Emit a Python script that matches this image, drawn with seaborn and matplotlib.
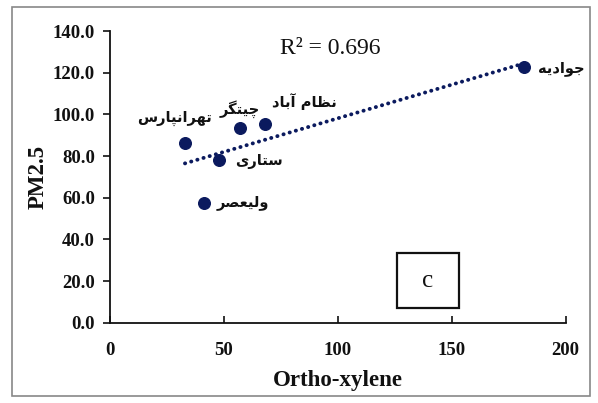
import matplotlib
matplotlib.use("Agg")
import matplotlib.pyplot as plt
import seaborn as sns
import pandas as pd
from matplotlib.patches import Rectangle

# ---- data ----
stations = ["جوادیه", "تهرانپارس", "چیتگر", "نظام آباد", "ستاری", "ولیعصر"]
ortho_xylene = [181.6, 32.9, 57.0, 68.0, 47.8, 41.2]
pm25 = [122.7, 86.3, 93.5, 95.4, 78.1, 57.5]
label_x = [198.0, 28.5, 57.0, 85.5, 65.4, 58.3]
label_y = [122.2, 98.3, 102.5, 106.0, 77.2, 57.5]
x_ticks = [0, 50, 100, 150, 200]
y_ticks = [0, 20, 40, 60, 80, 100, 120, 140]
r2_text = "R² = 0.696"
panel_letter = "c"

# ---- minimal Persian shaping (presentation forms, visual order) ----
FORMS = {  # iso, fin, init, med
    "ا": ("\uFE8D", "\uFE8E", None, None),
    "آ": ("\uFE81", "\uFE82", None, None),
    "ب": ("\uFE8F", "\uFE90", "\uFE91", "\uFE92"),
    "پ": ("\uFB56", "\uFB57", "\uFB58", "\uFB59"),
    "ت": ("\uFE95", "\uFE96", "\uFE97", "\uFE98"),
    "ج": ("\uFE9D", "\uFE9E", "\uFE9F", "\uFEA0"),
    "چ": ("\uFB7A", "\uFB7B", "\uFB7C", "\uFB7D"),
    "د": ("\uFEA9", "\uFEAA", None, None),
    "ر": ("\uFEAD", "\uFEAE", None, None),
    "س": ("\uFEB1", "\uFEB2", "\uFEB3", "\uFEB4"),
    "ص": ("\uFEB9", "\uFEBA", "\uFEBB", "\uFEBC"),
    "ظ": ("\uFEC5", "\uFEC6", "\uFEC7", "\uFEC8"),
    "ع": ("\uFEC9", "\uFECA", "\uFECB", "\uFECC"),
    "گ": ("\uFB92", "\uFB93", "\uFB94", "\uFB95"),
    "ل": ("\uFEDD", "\uFEDE", "\uFEDF", "\uFEE0"),
    "م": ("\uFEE1", "\uFEE2", "\uFEE3", "\uFEE4"),
    "ن": ("\uFEE5", "\uFEE6", "\uFEE7", "\uFEE8"),
    "ه": ("\uFEE9", "\uFEEA", "\uFEEB", "\uFEEC"),
    "و": ("\uFEED", "\uFEEE", None, None),
    "ی": ("\uFBFC", "\uFBFD", "\uFBFE", "\uFBFF"),
}


def shape(word):
    out = []
    n = len(word)
    for i, ch in enumerate(word):
        if ch not in FORMS:
            out.append(ch)
            continue
        prev = word[i - 1] if i > 0 else None
        nxt = word[i + 1] if i < n - 1 else None
        joins_prev = prev in FORMS and FORMS[prev][2] is not None
        joins_next = FORMS[ch][2] is not None and nxt in FORMS
        iso, fin, ini, med = FORMS[ch]
        if joins_prev and joins_next:
            out.append(med)
        elif joins_prev:
            out.append(fin)
        elif joins_next:
            out.append(ini)
        else:
            out.append(iso)
    return "".join(reversed(out))


# ---- plot ----
sns.set_theme(style="white")
plt.rcParams["font.family"] = ["Liberation Serif", "DejaVu Serif"]

fig = plt.figure(figsize=(5.98, 4.03), dpi=100)
ax = fig.add_axes([0.184, 0.199, 0.762, 0.724])

df = pd.DataFrame({"x": ortho_xylene, "y": pm25})
navy = "#0b1a5e"
sns.regplot(data=df, x="x", y="y", ax=ax, ci=None, color=navy,
            scatter_kws={"s": 70, "alpha": 1, "zorder": 3, "edgecolor": navy},
            line_kws={"linestyle": (0, (0.05, 1.6)), "linewidth": 2.8,
                      "dash_capstyle": "round"})

for name, lx, ly in zip(stations, label_x, label_y):
    ax.text(lx, ly, shape(name), ha="center", va="center", fontsize=10.5,
            fontweight="bold", family=["DejaVu Sans"], color="#111111", clip_on=False)

ax.text(96.5, 131.5, r2_text, ha="center", va="center", fontsize=17,
        color="#111111")

ax.add_patch(Rectangle((125.9, 7.2), 27.2, 26.4, fill=False, edgecolor="#111111",
                       linewidth=1.6, zorder=4))
ax.text(139.5, 20.0, panel_letter, ha="center", va="center", fontsize=18,
        color="#111111")

ax.set_xlim(0, 200)
ax.set_ylim(0, 140)
ax.set_xticks(x_ticks)
ax.set_yticks(y_ticks)
ax.set_xticklabels([str(v) for v in x_ticks])
ax.set_yticklabels([f"{v:.1f}" for v in y_ticks])
for lab in ax.get_xticklabels() + ax.get_yticklabels():
    lab.set_fontweight("bold")
    lab.set_fontsize(13.5)
    lab.set_color("#111111")

ax.set_xlabel("Ortho-xylene", fontsize=16.5, fontweight="bold", color="#111111", labelpad=8)
ax.set_ylabel("PM2.5", fontsize=16.5, fontweight="bold", color="#111111", labelpad=3)

sns.despine(ax=ax)
for sp in ("left", "bottom"):
    ax.spines[sp].set_color("#111111")
    ax.spines[sp].set_linewidth(1.3)
ax.tick_params(axis="y", direction="out", length=5, width=1.2, color="#111111", pad=6, left=True)
ax.tick_params(axis="x", direction="in", length=5, width=1.2, color="#111111", pad=14, bottom=True)

fig.patches.append(Rectangle((12 / 598, 1 - 396 / 403), 578 / 598, 389 / 403,
                             transform=fig.transFigure, fill=False,
                             edgecolor="#888888", linewidth=1.2))

fig.savefig("out.png", dpi=100)
